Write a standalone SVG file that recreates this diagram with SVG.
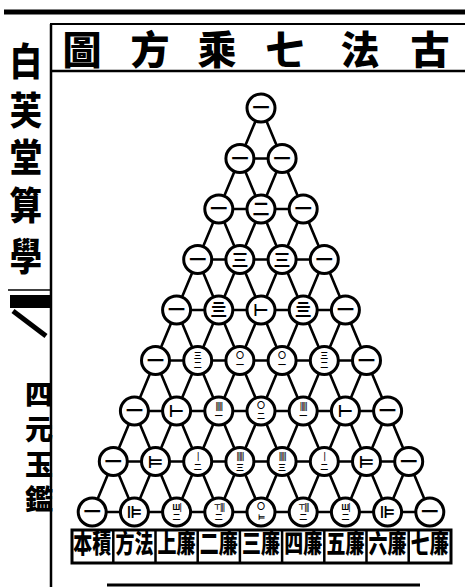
<svg xmlns="http://www.w3.org/2000/svg" width="465" height="587" viewBox="0 0 465 587">
<style>
.frame{stroke:#000;fill:none}
.edge{stroke:#000;stroke-width:2.6;fill:none;stroke-linecap:round}
.node circle{fill:#fff;stroke:#000;stroke-width:3}
.node text{font-family:"Noto Sans CJK TC","DejaVu Sans",sans-serif;font-weight:700;text-anchor:middle;font-size:17px;fill:#000}
.node text.s{font-size:8px}
.node text.a{font-family:"Noto Sans CJK TC","DejaVu Sans",sans-serif;font-size:8px;letter-spacing:-1px}
.title{font-family:"Noto Sans CJK TC",sans-serif;font-weight:900;font-size:39px;text-anchor:middle;fill:#000}
.side{font-family:"Noto Sans CJK TC",sans-serif;font-weight:900;text-anchor:middle;fill:#000}
.lab{font-family:"Noto Sans CJK TC",sans-serif;font-weight:900;font-size:19px;text-anchor:middle;fill:#000}
</style>
<rect width="465" height="587" fill="#fff"/>
<g id="frame">
<line class="frame" x1="4" y1="12" x2="465" y2="12" stroke-width="5"/>
<line class="frame" x1="50" y1="24" x2="465" y2="24" stroke-width="2"/>
<line class="frame" x1="51" y1="24" x2="51" y2="587" stroke-width="2.5"/>
<line class="frame" x1="51" y1="71" x2="465" y2="71" stroke-width="2.5"/>
<line class="frame" x1="107" y1="585" x2="420" y2="585" stroke-width="3"/>
<line class="frame" x1="8" y1="290" x2="51" y2="290" stroke-width="1.5"/>
<rect x="10" y="295" width="41" height="13" fill="#000"/>
<line class="frame" x1="13" y1="311" x2="46" y2="336" stroke-width="5"/>
</g>
<g id="title">
<text class="title" x="82" y="64">圖</text>
<text class="title" x="150" y="64">方</text>
<text class="title" x="217" y="64">乘</text>
<text class="title" x="285" y="64">七</text>
<text class="title" x="360" y="64">法</text>
<text class="title" x="430" y="64">古</text>
</g>
<g id="side">
<g transform="translate(26,0) scale(0.85,1)">
<text class="side" x="0" y="75" font-size="38">白</text>
<text class="side" x="0" y="124" font-size="38">芙</text>
<text class="side" x="0" y="171" font-size="38">堂</text>
<text class="side" x="0" y="219" font-size="38">算</text>
<text class="side" x="0" y="270" font-size="38">學</text>
</g>
<text class="side" x="39" y="405" font-size="28">四</text>
<text class="side" x="39" y="440" font-size="28">元</text>
<text class="side" x="39" y="475" font-size="28">玉</text>
<text class="side" x="39" y="510" font-size="28">鑑</text>
</g>
<g id="connectors" class="edge">
<path d="M261,108L92.2,512M282.1,158.5L134.4,512M303.2,209L176.6,512M324.3,259.5L218.8,512M345.4,310L261,512M366.5,360.5L303.2,512M387.6,411L345.4,512M408.7,461.5L387.6,512"/>
<path d="M261,108L429.8,512M239.9,158.5L387.6,512M218.8,209L345.4,512M197.7,259.5L303.2,512M176.6,310L261,512M155.5,360.5L218.8,512M134.4,411L176.6,512M113.3,461.5L134.4,512"/>
<path d="M239.9,158.5H282.1M218.8,209H303.2M197.7,259.5H324.3M176.6,310H345.4M155.5,360.5H366.5M134.4,411H387.6M113.3,461.5H408.7M92.2,512H429.8"/>
</g>
<g id="n0_0" class="node"><circle cx="261" cy="108" r="14"/><text x="261" y="114">一</text></g>
<g id="n1_0" class="node"><circle cx="239.9" cy="158.5" r="14"/><text x="239.9" y="164.5">一</text></g>
<g id="n1_1" class="node"><circle cx="282.1" cy="158.5" r="14"/><text x="282.1" y="164.5">一</text></g>
<g id="n2_0" class="node"><circle cx="218.8" cy="209" r="14"/><text x="218.8" y="215">一</text></g>
<g id="n2_1" class="node"><circle cx="261" cy="209" r="14"/><text x="261" y="215">二</text></g>
<g id="n2_2" class="node"><circle cx="303.2" cy="209" r="14"/><text x="303.2" y="215">一</text></g>
<g id="n3_0" class="node"><circle cx="197.7" cy="259.5" r="14"/><text x="197.7" y="265.5">一</text></g>
<g id="n3_1" class="node"><circle cx="239.9" cy="259.5" r="14"/><text x="239.9" y="265.5">三</text></g>
<g id="n3_2" class="node"><circle cx="282.1" cy="259.5" r="14"/><text x="282.1" y="265.5">三</text></g>
<g id="n3_3" class="node"><circle cx="324.3" cy="259.5" r="14"/><text x="324.3" y="265.5">一</text></g>
<g id="n4_0" class="node"><circle cx="176.6" cy="310" r="14"/><text x="176.6" y="316">一</text></g>
<g id="n4_1" class="node"><circle cx="218.8" cy="310" r="14"/><text x="218.8" y="316">亖</text></g>
<g id="n4_2" class="node"><circle cx="261" cy="310" r="14"/><text x="261" y="316">⊢</text></g>
<g id="n4_3" class="node"><circle cx="303.2" cy="310" r="14"/><text x="303.2" y="316">亖</text></g>
<g id="n4_4" class="node"><circle cx="345.4" cy="310" r="14"/><text x="345.4" y="316">一</text></g>
<g id="n5_0" class="node"><circle cx="155.5" cy="360.5" r="14"/><text x="155.5" y="366.5">一</text></g>
<g id="n5_1" class="node"><circle cx="197.7" cy="360.5" r="14"/><text class="s" x="197.7" y="358">三</text><text class="s" x="197.7" y="368">二</text></g>
<g id="n5_2" class="node"><circle cx="239.9" cy="360.5" r="14"/><text class="s" x="239.9" y="358">〇</text><text class="s" x="239.9" y="368">一</text></g>
<g id="n5_3" class="node"><circle cx="282.1" cy="360.5" r="14"/><text class="s" x="282.1" y="358">〇</text><text class="s" x="282.1" y="368">一</text></g>
<g id="n5_4" class="node"><circle cx="324.3" cy="360.5" r="14"/><text class="s" x="324.3" y="358">三</text><text class="s" x="324.3" y="368">二</text></g>
<g id="n5_5" class="node"><circle cx="366.5" cy="360.5" r="14"/><text x="366.5" y="366.5">一</text></g>
<g id="n6_0" class="node"><circle cx="134.4" cy="411" r="14"/><text x="134.4" y="417">一</text></g>
<g id="n6_1" class="node"><circle cx="176.6" cy="411" r="14"/><text x="176.6" y="417">⊢</text></g>
<g id="n6_2" class="node"><circle cx="218.8" cy="411" r="14"/><text class="a" x="218.8" y="409">|||||</text><text class="s" x="218.8" y="419">一</text></g>
<g id="n6_3" class="node"><circle cx="261" cy="411" r="14"/><text class="s" x="261" y="408">〇</text><text class="s" x="261" y="419">二</text></g>
<g id="n6_4" class="node"><circle cx="303.2" cy="411" r="14"/><text class="a" x="303.2" y="409">|||||</text><text class="s" x="303.2" y="419">一</text></g>
<g id="n6_5" class="node"><circle cx="345.4" cy="411" r="14"/><text x="345.4" y="417">⊢</text></g>
<g id="n6_6" class="node"><circle cx="387.6" cy="411" r="14"/><text x="387.6" y="417">一</text></g>
<g id="n7_0" class="node"><circle cx="113.3" cy="461.5" r="14"/><text x="113.3" y="467.5">一</text></g>
<g id="n7_1" class="node"><circle cx="155.5" cy="461.5" r="14"/><text x="155.5" y="467.5">⊨</text></g>
<g id="n7_2" class="node"><circle cx="197.7" cy="461.5" r="14"/><text class="a" x="197.7" y="459">|</text><text class="s" x="197.7" y="470">二</text></g>
<g id="n7_3" class="node"><circle cx="239.9" cy="461.5" r="14"/><text class="a" x="239.9" y="459">|||||</text><text class="s" x="239.9" y="470">三</text></g>
<g id="n7_4" class="node"><circle cx="282.1" cy="461.5" r="14"/><text class="a" x="282.1" y="459">|||||</text><text class="s" x="282.1" y="470">三</text></g>
<g id="n7_5" class="node"><circle cx="324.3" cy="461.5" r="14"/><text class="a" x="324.3" y="459">|</text><text class="s" x="324.3" y="470">二</text></g>
<g id="n7_6" class="node"><circle cx="366.5" cy="461.5" r="14"/><text x="366.5" y="467.5">⊨</text></g>
<g id="n7_7" class="node"><circle cx="408.7" cy="461.5" r="14"/><text x="408.7" y="467.5">一</text></g>
<g id="n8_0" class="node"><circle cx="92.2" cy="512" r="14"/><text x="92.2" y="518">一</text></g>
<g id="n8_1" class="node"><circle cx="134.4" cy="512" r="14"/><text x="134.4" y="518">⊫</text></g>
<g id="n8_2" class="node"><circle cx="176.6" cy="512" r="14"/><text class="a" x="176.6" y="510">Ш|</text><text class="s" x="176.6" y="520">二</text></g>
<g id="n8_3" class="node"><circle cx="218.8" cy="512" r="14"/><text class="a" x="218.8" y="510">⊤|||</text><text class="s" x="218.8" y="520">二</text></g>
<g id="n8_4" class="node"><circle cx="261" cy="512" r="14"/><text class="s" x="261" y="509">〇</text><text class="a" x="261" y="520">⊨</text></g>
<g id="n8_5" class="node"><circle cx="303.2" cy="512" r="14"/><text class="a" x="303.2" y="510">⊤|||</text><text class="s" x="303.2" y="520">二</text></g>
<g id="n8_6" class="node"><circle cx="345.4" cy="512" r="14"/><text class="a" x="345.4" y="510">Ш|</text><text class="s" x="345.4" y="520">二</text></g>
<g id="n8_7" class="node"><circle cx="387.6" cy="512" r="14"/><text x="387.6" y="518">⊫</text></g>
<g id="n8_8" class="node"><circle cx="429.8" cy="512" r="14"/><text x="429.8" y="518">一</text></g>
<g id="labels">
<rect x="72" y="530" width="379" height="33" fill="none" stroke="#000" stroke-width="3"/>
<path d="M113.3,530V563M155.5,530V563M197.7,530V563M239.9,530V563M282.1,530V563M324.3,530V563M366.5,530V563M408.7,530V563" stroke="#000" stroke-width="2.5"/>
<g transform="translate(0,553) scale(1,1.35)">
<text class="lab" x="92.2" y="0">本積</text>
<text class="lab" x="134.4" y="0">方法</text>
<text class="lab" x="176.6" y="0">上廉</text>
<text class="lab" x="218.8" y="0">二廉</text>
<text class="lab" x="261" y="0">三廉</text>
<text class="lab" x="303.2" y="0">四廉</text>
<text class="lab" x="345.4" y="0">五廉</text>
<text class="lab" x="387.6" y="0">六廉</text>
<text class="lab" x="429.8" y="0">七廉</text>
</g>
</g>
</svg>
